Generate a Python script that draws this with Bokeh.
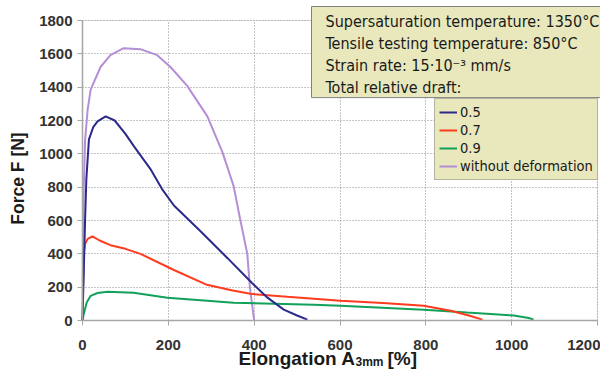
import math
from bokeh.plotting import figure
from bokeh.models import Label, Legend, LegendItem, Range1d, FixedTicker, BoxAnnotation
from bokeh.embed import file_html
from bokeh.resources import INLINE

# ---- data ----
x_05 = [0, 3, 6, 9, 15, 25, 35, 54, 75, 100, 120, 158, 185, 213, 275, 338, 395, 431, 469, 500, 524]
y_05 = [0, 300, 600, 850, 1087, 1160, 1195, 1225, 1200, 1120, 1045, 910, 790, 690, 535, 374, 225, 137, 65, 30, 5]

x_07 = [1, 3, 6, 12, 23, 40, 65, 100, 135, 213, 290, 350, 391, 477, 508, 601, 700, 795, 858, 900, 932]
y_07 = [160, 400, 460, 490, 505, 480, 452, 430, 400, 303, 214, 180, 160, 142, 137, 119, 105, 89, 59, 30, 5]

x_09 = [0, 2, 5, 10, 19, 35, 58, 119, 198, 352, 539, 601, 795, 896, 1005, 1040, 1051]
y_09 = [0, 30, 60, 110, 148, 165, 172, 167, 137, 107, 95, 89, 65, 48, 30, 15, 5]

x_wo = [0, 1, 3, 6, 12, 19, 42, 65, 96, 135, 174, 205, 244, 291, 326, 352, 368, 384, 390, 395, 400]
y_wo = [0, 400, 800, 1080, 1265, 1385, 1521, 1592, 1634, 1628, 1592, 1521, 1408, 1225, 1010, 808, 600, 400, 200, 100, 0]

x_ticks = [0, 200, 400, 600, 800, 1000, 1200]
y_ticks = [0, 200, 400, 600, 800, 1000, 1200, 1400, 1600, 1800]

series_labels = ["0.5", "0.7", "0.9", "without deformation"]
series_colors = ["#2b2a8c", "#ff3b1f", "#12a15a", "#b48fd6"]

info_text = ("Supersaturation temperature: 1350\u00b0C\n"
             "Tensile testing temperature: 850\u00b0C\n"
             "Strain rate: 15\u00b710\u207b\u00b3 mm/s\n"
             "Total relative draft:")

NARROW = "DejaVu Sans Condensed"
BOLD = "Liberation Sans"
INK = "#1a1a1a"

# ---- geometry of the plot area on the canvas ----
W, H = 600, 371
PL, PR, PT, PB = 82, 597, 20, 320          # plot-area edges (canvas px)
x0, x1 = x_ticks[0], x_ticks[-1]
y0, y1 = y_ticks[0], y_ticks[-1]
kx = (PR - PL) / (x1 - x0)
ky = (PB - PT) / (y1 - y0)

p = figure(width=W, height=H, min_border=0,
           x_range=Range1d(x0 - PL / kx, x1 + (W - PR) / kx),
           y_range=Range1d(y0 - (H - PB) / ky, y1 + PT / ky),
           output_backend="svg", toolbar_location=None)
p.background_fill_color = "white"
p.border_fill_color = "white"
p.outline_line_color = None

for ax, ticks, bnds in ((p.xaxis, x_ticks, (x0, x1)), (p.yaxis, y_ticks, (y0, y1))):
    ax.ticker = FixedTicker(ticks=ticks)
    ax.fixed_location = 0
    ax.bounds = bnds
    ax.axis_line_color = "#a6a6a6"
    ax.axis_line_width = 1.5
    ax.major_tick_line_color = "#a6a6a6"
    ax.major_tick_out = 5
    ax.major_tick_in = 0
    ax.minor_tick_line_color = None
    ax.major_label_text_font = BOLD
    ax.major_label_text_font_style = "bold"
    ax.major_label_text_font_size = "15px"
    ax.major_label_text_color = "#333333"
    ax.axis_label = None
p.xaxis.major_label_standoff = 14
p.yaxis.major_label_standoff = 5

p.grid.grid_line_color = "#8c8c8c"
p.grid.grid_line_dash = "1 2"
p.grid.grid_line_width = 1.1
p.xgrid.ticker = FixedTicker(ticks=x_ticks)
p.ygrid.ticker = FixedTicker(ticks=y_ticks)
p.xgrid.bounds = (x0, x1)
p.ygrid.bounds = (y0, y1)
p.xgrid.cross_bounds = (y0, y1)
p.ygrid.cross_bounds = (x0, x1)

# plot-area frame (top / right border)
p.add_layout(BoxAnnotation(left=x0, right=x1, bottom=y0, top=y1,
                           fill_alpha=0, line_color="#a6a6a6", line_width=1.2,
                           level="underlay"))

r_wo = p.line(x_wo, y_wo, line_color=series_colors[3], line_width=2)
r_09 = p.line(x_09, y_09, line_color=series_colors[2], line_width=2)
r_07 = p.line(x_07, y_07, line_color=series_colors[1], line_width=2)
r_05 = p.line(x_05, y_05, line_color=series_colors[0], line_width=2)

def sy(cy):
    return H - cy

def txt(text, cx, cy, size, **kw):
    p.add_layout(Label(x=cx, y=sy(cy), x_units="screen", y_units="screen", text=text,
                       text_font=kw.pop("font", BOLD), text_font_style=kw.pop("style", "bold"),
                       text_font_size=size, text_color=INK, **kw))

# axis titles
txt("Force F [N]", 17, 178, "17.5px", angle=math.pi / 2,
    text_align="center", text_baseline="middle")
txt("Elongation A", 238, 358, "19px", text_align="left", text_baseline="alphabetic")
txt("3mm", 355, 361, "12px", text_align="left", text_baseline="alphabetic")
txt("[%]", 387, 358, "19px", text_align="left", text_baseline="alphabetic")

# info box
p.add_layout(Label(x=311, y=sy(6), x_units="screen", y_units="screen",
                   text=info_text, text_align="left", text_baseline="top",
                   text_font=NARROW, text_font_size="16px",
                   text_line_height=1.16, text_color=INK,
                   background_fill_color="#e8e8bc", border_line_color="#808080",
                   border_line_width=1,
                   padding=dict(left=14, right=4, top=5, bottom=1)))

# legend
legend = Legend(items=[LegendItem(label=series_labels[0], renderers=[r_05]),
                       LegendItem(label=series_labels[1], renderers=[r_07]),
                       LegendItem(label=series_labels[2], renderers=[r_09]),
                       LegendItem(label=series_labels[3], renderers=[r_wo])],
                location=(434, sy(180)), orientation="vertical",
                padding=4, spacing=0, margin=0, label_height=18, glyph_height=18,
                glyph_width=18, label_standoff=3,
                label_text_font=NARROW, label_text_font_size="14.5px",
                label_text_color=INK, label_text_baseline="middle",
                background_fill_color="#e8e8bc", background_fill_alpha=1.0,
                border_line_color="#808080", border_line_width=1)
p.add_layout(legend, "center")

open("out.html", "w").write(file_html(p, INLINE))
